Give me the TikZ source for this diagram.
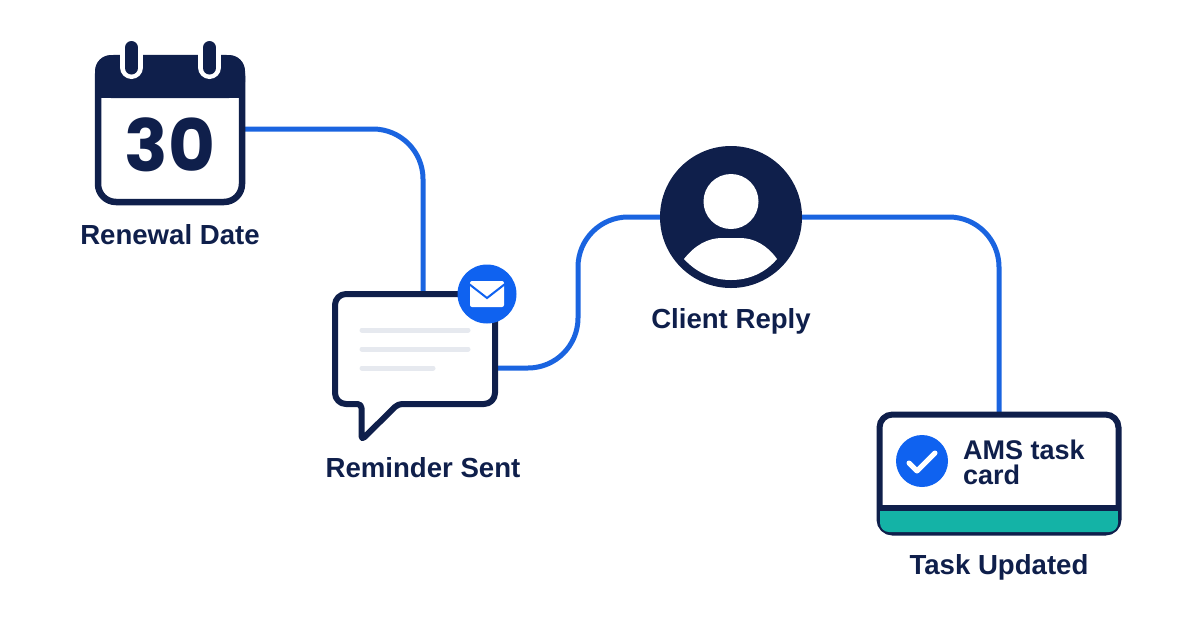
\documentclass[tikz,border=0pt]{standalone}
\usepackage{fontspec}
\usepackage{graphicx}
\setmainfont{Liberation Sans}
\newfontfamily\digitfont{Poppins}
\usetikzlibrary{positioning,backgrounds}
\definecolor{navy}{HTML}{0F1F4B}
\definecolor{linkblue}{HTML}{1A64E0}
\definecolor{badgeblue}{HTML}{0F62F0}
\definecolor{cardteal}{HTML}{14B3A6}
\definecolor{rulegray}{HTML}{E6E9EF}
\begin{document}
\begin{tikzpicture}[
            x=1pt,y=-1pt,
            lab/.style={
              text=navy,
              inner sep=0pt,
              outer sep=0pt,
              font=\fontsize{27.6}{27.6}\selectfont\bfseries
            },
            panel/.style={
              draw=navy,
              fill=white,
              outer sep=0pt,
              inner sep=0pt
            },
            link/.style={
              draw=linkblue,
              line width=5pt,
              rounded corners=50pt
            },
            ring/.style={
              line cap=round
            },
            textline/.style={
              draw=rulegray,
              line width=5pt,
              line cap=round
            },
            node distance=18pt
            ]
            \useasboundingbox (0,0) rectangle (1200,630);

            % calendar
            \node[panel,line width=6.5pt,rounded corners=18pt,minimum width=144pt,minimum height=144pt] at (170,130)
              (cal) {};
            \fill[navy,rounded corners=16pt] (95,98) -- (95,55) -- (245,55) -- (245,98) -- cycle;
            \fill[navy] (95,80) rectangle (245,98);
            \draw[ring,white,line width=23pt] (131.5,47) -- (131.5,67.5);
            \draw[ring,white,line width=23pt] (209.5,47) -- (209.5,67.5);
            \fill[white] (110,30) rectangle (230,54);
            \draw[ring,navy,line width=13pt] (131.5,47.5) -- (131.5,68);
            \draw[ring,navy,line width=13pt] (209.5,47.5) -- (209.5,68);
            \node[text=navy,inner sep=0pt,font=\fontsize{72}{72}\digitfont\bfseries] at (170,145)
              (day) {30};
            \node[lab,below=22pt of cal] (callab) {Renewal Date};

            % reminder bubble
            \node[outer sep=0pt,inner sep=0pt,minimum width=166pt,minimum height=116pt] at (415,349)
              (msg) {};
            \draw[navy,fill=white,line width=6pt,line join=round,rounded corners=11pt]
              (415,294) -- (495,294) -- (495,404)
              [rounded corners=4pt] -- (398,404) -- (361.5,440) -- (361.5,404)
              [rounded corners=11pt] -- (335,404) -- (335,294) -- cycle;
            \draw[textline] (362,330) -- (468,330);
            \draw[textline] (362,349) -- (468,349);
            \draw[textline] (362,368) -- (433,368);
            \node[circle,fill=badgeblue,inner sep=0pt,outer sep=0pt,minimum size=59pt] at (487,294)
              (badge) {};
            \fill[white,rounded corners=2pt] (470,281) rectangle (504,307);
            \draw[badgeblue,line width=2pt] (469,284) -- (487,298) -- (505,284);
            \node[lab,below=50pt of msg,xshift=8pt] (msglab) {Reminder Sent};

            % client
            \node[circle,fill=navy,inner sep=0pt,outer sep=0pt,minimum size=142pt] at (731,217)
              (client) {};
            \fill[white] (731,201.5) circle (27.5pt);
            \fill[white] (684,259) .. controls (695,245) and (708,238) .. (722,238)
              -- (740,238) .. controls (754,238) and (767,245) .. (777,259)
              .. controls (765,273) and (749,280) .. (731,280)
              .. controls (713,280) and (697,273) .. (684,259) -- cycle;
            \node[lab,below=20pt of client] (clientlab) {Client Reply};

            % task card
            \node[panel,line width=6pt,rounded corners=13pt,minimum width=239pt,minimum height=118pt] at (999,473.5)
              (card) {};
            \fill[cardteal,rounded corners=9pt] (880,511) -- (880,532) -- (1118,532) -- (1118,511) -- cycle;
            \fill[cardteal] (880,511) rectangle (1118,520);
            \draw[navy,line width=5.5pt] (card.west |- 0,508) -- (card.east |- 0,508);
            \node[circle,fill=badgeblue,inner sep=0pt,outer sep=0pt,minimum size=52pt] at (922,461)
              (check) {};
            \draw[white,line width=5pt,line cap=round,line join=round] (909,463) -- (917,471) -- (935,453);
            \node[text=navy,inner sep=0pt,anchor=base west,align=left,font=\fontsize{27}{25}\selectfont\bfseries] at (963,484)
              (cardtext) {AMS task\\card};
            \node[lab,below=22pt of card] (cardlab) {Task Updated};

            \begin{scope}[on background layer]
            \draw[link] (cal.east |- 0,129) -- (423,129) -- (423,0 |- msg.north);
            \draw[link] (msg.east |- 0,368) -- (578,368) -- (578,217) -- (client.west);
            \draw[link] (client.east) -- (999,217) -- (card.north);
            \end{scope}
            \end{tikzpicture}
\end{document}
